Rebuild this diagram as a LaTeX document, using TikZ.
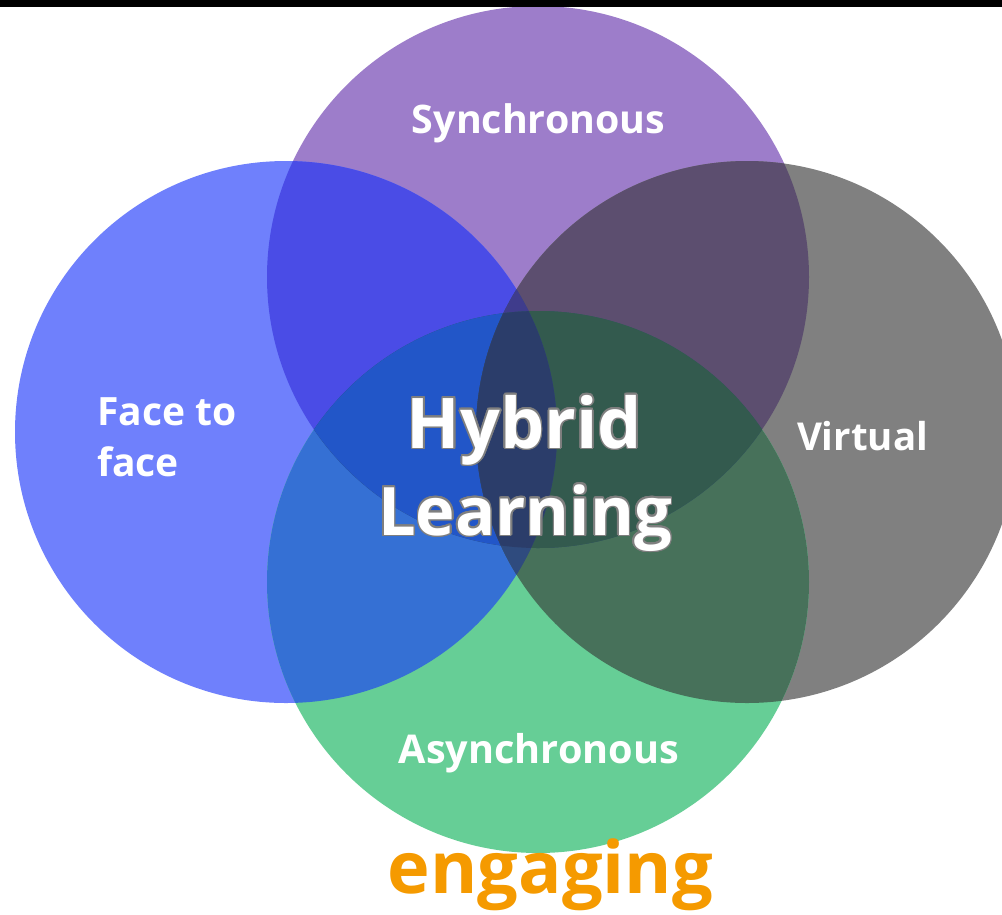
\documentclass[tikz,border=0pt]{standalone}
\usepackage{fontspec}
\setmainfont{Open Sans}
\usepackage{graphicx}
\usepackage{contour}
\contourlength{1.6pt}
\definecolor{cPur}{HTML}{9D7DCA}
\definecolor{cBlu}{HTML}{6F80FC}
\definecolor{cGry}{HTML}{808080}
\definecolor{cGrn}{HTML}{66CE96}
\definecolor{cBP}{HTML}{4A4CE6}
\definecolor{cPG}{HTML}{5C4E6F}
\definecolor{cBN}{HTML}{3570D4}
\definecolor{cGN}{HTML}{47715A}
\definecolor{cBG}{HTML}{2F4B7C}
\definecolor{cPN}{HTML}{2B4A6A}
\definecolor{cBPN}{HTML}{2256C8}
\definecolor{cBPG}{HTML}{3F3C8C}
\definecolor{cPGN}{HTML}{335A4E}
\definecolor{cBGN}{HTML}{2F4B7E}
\definecolor{cAll}{HTML}{2B3D6A}
\definecolor{cOrange}{HTML}{F59A00}
\definecolor{cOutline}{HTML}{7F7F7F}
\begin{document}
\begin{tikzpicture}[x=1pt,y=-1pt,
  lab/.style={text=white,inner sep=0pt,font=\bfseries},
  big/.style={text=white,inner sep=0pt,font=\bfseries}]
\useasboundingbox (0,0) rectangle (1002,914);
\clip (0,0) rectangle (1002,914);
\def\cP{(538,277) circle (271pt)}
\def\cB{(286,432) circle (271pt)}
\def\cG{(747,432) circle (271pt)}
\def\cN{(538,582) circle (271pt)}
% single circles
\fill[cPur] \cP;
\fill[cBlu] \cB;
\fill[cGry] \cG;
\fill[cGrn] \cN;
% pairs
\begin{scope}\clip \cB; \fill[cBP] \cP; \end{scope}
\begin{scope}\clip \cP; \fill[cPG] \cG; \end{scope}
\begin{scope}\clip \cB; \fill[cBN] \cN; \end{scope}
\begin{scope}\clip \cG; \fill[cGN] \cN; \end{scope}
\begin{scope}\clip \cB; \fill[cBG] \cG; \end{scope}
\begin{scope}\clip \cP; \fill[cPN] \cN; \end{scope}
% triples
\begin{scope}\clip \cB; \clip \cP; \fill[cBPN] \cN; \end{scope}
\begin{scope}\clip \cB; \clip \cP; \fill[cBPG] \cG; \end{scope}
\begin{scope}\clip \cP; \clip \cG; \fill[cPGN] \cN; \end{scope}
\begin{scope}\clip \cB; \clip \cG; \fill[cBGN] \cN; \end{scope}
% all four
\begin{scope}\clip \cB; \clip \cP; \clip \cG; \fill[cAll] \cN; \end{scope}
% top bar
\fill[black] (0,0) rectangle (1002,7);
% labels
\node[lab,anchor=base] (sync) at (538.5,133) {\resizebox{253pt}{!}{Synchronous}};
\node[lab,anchor=base west] (ff1) at (97,425) {\fontsize{39}{46}\selectfont Face to};
\node[lab,anchor=base west] (ff2) at (97,476) {\fontsize{39}{46}\selectfont face};
\node[lab,anchor=base] (virt) at (862.5,450) {\resizebox{131pt}{!}{Virtual}};
\node[lab,anchor=base] (async) at (539,763) {\resizebox{280pt}{!}{Asynchronous}};
\node[big,anchor=base] (hyb) at (524.5,448) {\resizebox{235pt}{!}{\fontsize{68}{80}\selectfont\contour{cOutline}{Hybrid}}};
\node[big,anchor=base] (learn) at (525,535) {\resizebox{294pt}{!}{\fontsize{68}{80}\selectfont\contour{cOutline}{Learning}}};
\node[inner sep=0pt,anchor=base,text=cOrange,font=\bfseries] (eng) at (550.5,893) {\resizebox{325pt}{!}{engaging}};
\end{tikzpicture}
\end{document}
